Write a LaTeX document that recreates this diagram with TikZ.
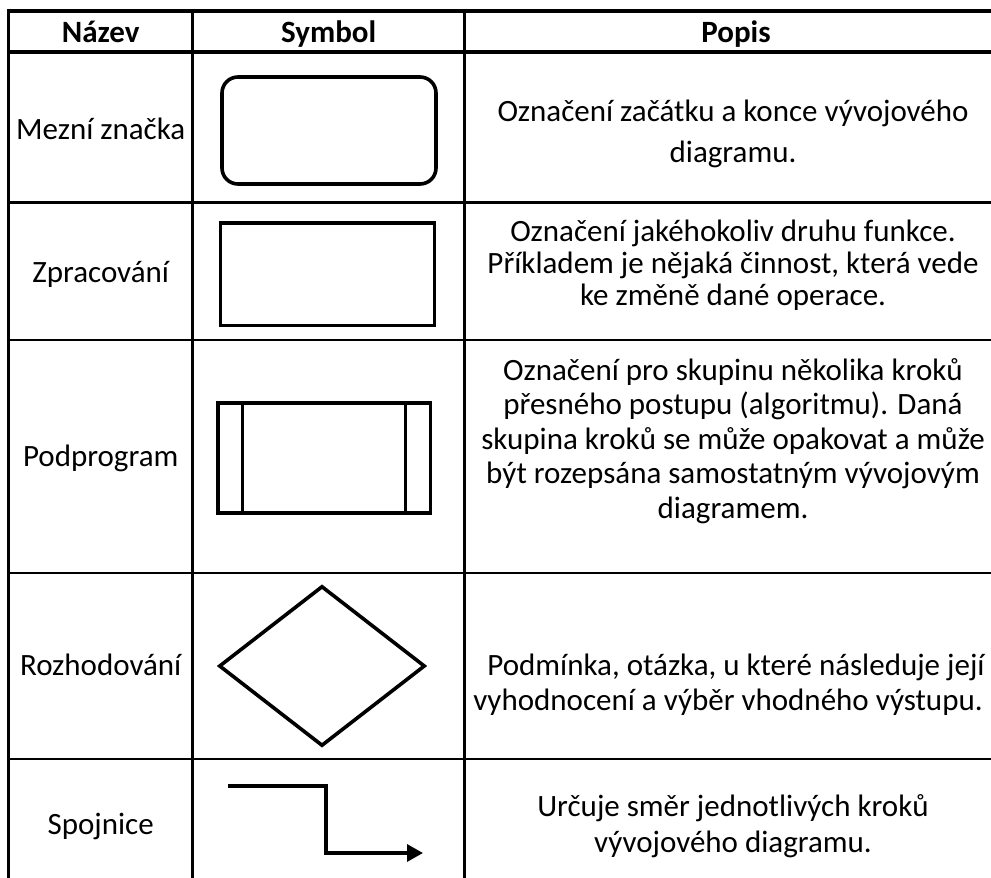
\documentclass[tikz,border=0pt]{standalone}
\usepackage{fontspec}
\setmainfont{Carlito}
\usetikzlibrary{arrows.meta,shapes.geometric}
\begin{document}
\begin{tikzpicture}[x=1pt,y=-1pt,
  gridline/.style={line width=2.7pt},
  headrule/.style={line width=3.1pt},
  symline/.style={line width=3.6pt},
  txt/.style={anchor=base, inner sep=0pt, font=\fontsize{31}{35}\selectfont},
  head/.style={anchor=base, inner sep=0pt, font=\fontsize{31}{35}\selectfont\bfseries},
]
\useasboundingbox (0,0) rectangle (991,878);
\fill[white] (0,0) rectangle (991,878);

% table grid
\foreach \x in {8.7,192.8,464.7}
  \draw[gridline] (\x,9.5) -- (\x,878);
\draw[headrule] (7.35,11) -- (991,11);
\draw[headrule] (7.35,52) -- (991,52);
\foreach \y in {202.7,340,573,759}
  \draw[gridline] (7.35,\y) -- (991,\y);

% header
\node[head] (hname) at (100.7,42) {Název};
\node[head] (hsym)  at (328.7,42) {Symbol};
\node[head] (hdesc) at (736,42) {Popis};

% row 1: terminator
\node[txt] (n1) at (100.7,139) {Mezní značka};
\node[draw, symline, rounded corners=16pt, minimum width=214pt, minimum height=107pt, inner sep=0pt] (term) at (329,130.5) {};
\node[txt] (d1a) at (733,121) {Označení začátku a konce vývojového};
\node[txt] (d1b) at (733,162) {diagramu.};

% row 2: process
\node[txt] (n2) at (100.7,282) {Zpracování};
\node[draw, symline, minimum width=214pt, minimum height=102.6pt, inner sep=0pt] (proc) at (327.5,274) {};
\node[txt] (d2a) at (733,241) {Označení jakéhokoliv druhu funkce.};
\node[txt] (d2b) at (733,273) {Příkladem je nějaká činnost, která vede};
\node[txt] (d2c) at (733,305) {ke změně dané operace.};

% row 3: subprogram
\node[txt] (n3) at (100.7,466) {Podprogram};
\node[draw, symline, minimum width=212.3pt, minimum height=110pt, inner sep=0pt] (sub) at (324.2,458) {};
\draw[symline] ([xshift=26.2pt]sub.north west) -- ([xshift=26.2pt]sub.south west);
\draw[symline] ([xshift=-26.6pt]sub.north east) -- ([xshift=-26.6pt]sub.south east);
\node[txt] (d3a) at (733,380) {Označení pro skupinu několika kroků};
\node[txt] (d3b) at (733,414) {přesného postupu (algoritmu). Daná};
\node[txt] (d3c) at (733,449) {skupina kroků se může opakovat a může};
\node[txt] (d3d) at (733,483) {být rozepsána samostatným vývojovým};
\node[txt] (d3e) at (733,518) {diagramem.};

% row 4: decision
\node[txt] (n4) at (100.7,675) {Rozhodování};
\node[draw, symline, diamond, minimum width=206pt, minimum height=160pt, inner sep=0pt] (dec) at (322,666) {};
\node[txt] (d4a) at (736,675) {Podmínka, otázka, u které následuje její};
\node[txt] (d4b) at (728,710) {vyhodnocení a výběr vhodného výstupu.};

% row 5: connector
\node[txt] (n5) at (100.7,834) {Spojnice};
\coordinate (cstart) at (228,786);
\coordinate (cbend) at (326,853);
\coordinate (cend) at (423,853);
\draw[line width=3.3pt, -{Triangle[length=16pt,width=17pt]}] (cstart) -| (cbend) -- (cend);
\node[txt] (d5a) at (733,816) {Určuje směr jednotlivých kroků};
\node[txt] (d5b) at (733,852) {vývojového diagramu.};
\end{tikzpicture}
\end{document}
